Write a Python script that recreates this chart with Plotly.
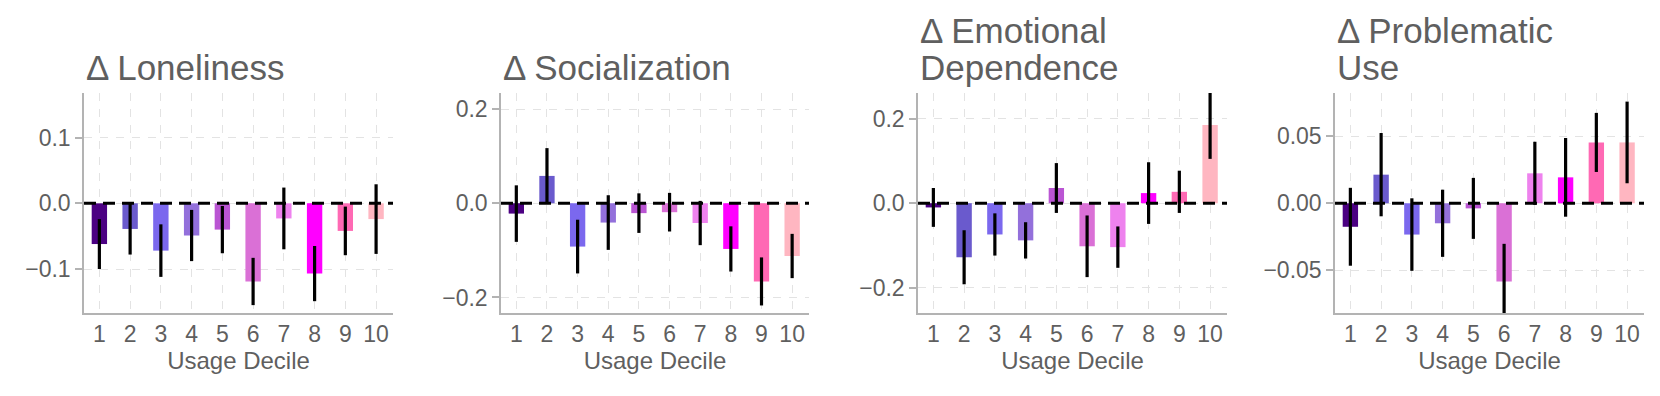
import plotly.graph_objects as go
from plotly.subplots import make_subplots

# usage deciles and bar colours
deciles = [1, 2, 3, 4, 5, 6, 7, 8, 9, 10]
bar_colors = ['#4B0082', '#6A5ACD', '#7B68EE', '#9370DB', '#BA55D3',
              '#DA70D6', '#EE82EE', '#FF00FF', '#FF69B4', '#FFB6C1']

# change per decile and error half-widths
loneliness = [-0.062, -0.039, -0.072, -0.049, -0.040, -0.119, -0.023, -0.107, -0.042, -0.024]
loneliness_err = [0.038, 0.039, 0.040, 0.039, 0.036, 0.036, 0.047, 0.042, 0.037, 0.053]

socialization = [-0.022, 0.058, -0.092, -0.041, -0.021, -0.019, -0.042, -0.097, -0.166, -0.112]
socialization_err = [0.060, 0.059, 0.057, 0.058, 0.042, 0.041, 0.047, 0.048, 0.051, 0.047]

emotional = [-0.010, -0.128, -0.074, -0.088, 0.036, -0.102, -0.104, 0.024, 0.027, 0.185]
emotional_err = [0.046, 0.064, 0.050, 0.043, 0.059, 0.073, 0.049, 0.073, 0.050, 0.080]

problematic = [-0.0175, 0.0213, -0.0233, -0.0149, -0.0038, -0.0582, 0.0223, 0.0193, 0.0453, 0.0453]
problematic_err = [0.029, 0.031, 0.027, 0.025, 0.0227, 0.028, 0.0235, 0.0293, 0.022, 0.0304]

titles = [['Δ Loneliness'], ['Δ Socialization'], ['Δ Emotional', 'Dependence'], ['Δ Problematic', 'Use']]
y_ranges = [[-0.167, 0.168], [-0.233, 0.234], [-0.26, 0.261], [-0.0817, 0.0821]]
y_ticks = [[-0.1, 0, 0.1], [-0.2, 0, 0.2], [-0.2, 0, 0.2], [-0.05, 0, 0.05]]
y_formats = ['.1f', '.1f', '.1f', '.2f']

values = [loneliness, socialization, emotional, problematic]
errors = [loneliness_err, socialization_err, emotional_err, problematic_err]

# the page body adds an 8px margin, so the figure is 8px smaller each way
OFF = 8
W, H = 1660 - OFF, 396 - OFF
# plot area edges in page pixels
x_edges = [(84, 393), (501, 809), (918, 1227), (1335, 1644)]
top, bottom = 93, 313
plot_h = bottom - top

FONT = 'Liberation Sans, Arial, Helvetica, sans-serif'
TEXT = '#5f5f5f'
AXIS = '#b3b3b3'
GRID = '#e3e3e3'


def paper_y(py):
    # page pixel row -> paper y of the plot area
    return (bottom - py) / plot_h


fig = make_subplots(rows=1, cols=4)

for i in range(4):
    fig.add_trace(go.Bar(
        x=deciles, y=values[i], width=0.5,
        marker=dict(color=bar_colors, line=dict(width=0)),
        error_y=dict(type='data', array=errors[i], color='black', thickness=3.2, width=0),
        showlegend=False), row=1, col=i+1)

    ax = '' if i == 0 else str(i + 1)
    fig.update_xaxes(
        domain=[(x_edges[i][0] - OFF) / W, (x_edges[i][1] - OFF) / W],
        range=[0.5, 10.55], tickvals=deciles, ticks='',
        showline=True, linecolor=AXIS, linewidth=1.5,
        showgrid=True, gridcolor=GRID, griddash='8px,8px', gridwidth=1.3,
        zeroline=False,
        tickfont=dict(size=23, color=TEXT, family=FONT),
        title=dict(text='Usage Decile', font=dict(size=24, color=TEXT, family=FONT), standoff=6),
        row=1, col=i+1)
    fig.update_yaxes(
        range=y_ranges[i], tickvals=y_ticks[i], tickformat=y_formats[i],
        ticks='outside', ticklen=7, tickcolor=AXIS, tickwidth=1.5,
        showline=True, linecolor=AXIS, linewidth=1.5,
        showgrid=True, gridcolor=GRID, griddash='8px,8px', gridwidth=1.3,
        zeroline=False,
        tickfont=dict(size=23, color=TEXT, family=FONT),
        row=1, col=i+1)

    # dashed zero line
    fig.add_shape(type='line', xref=f'x{ax} domain', yref=f'y{ax}',
                  x0=0, x1=1, y0=0, y1=0, layer='above',
                  line=dict(color='black', width=3, dash='12px,7px'))

    # panel title, left aligned with the plot area
    lines = titles[i]
    centers = [67] if len(lines) == 1 else [30, 67]
    for text, cy in zip(lines, centers):
        fig.add_annotation(text=text, xref=f'x{ax} domain', x=0, xanchor='left',
                           yref='paper', y=paper_y(cy), yanchor='middle',
                           showarrow=False, font=dict(size=35, color=TEXT, family=FONT))

fig.update_layout(
    width=W, height=H,
    margin=dict(l=0, r=0, t=top - OFF, b=H - (bottom - OFF)),
    plot_bgcolor='white', paper_bgcolor='white',
    bargap=0.5)

fig.write_html('out.html')
